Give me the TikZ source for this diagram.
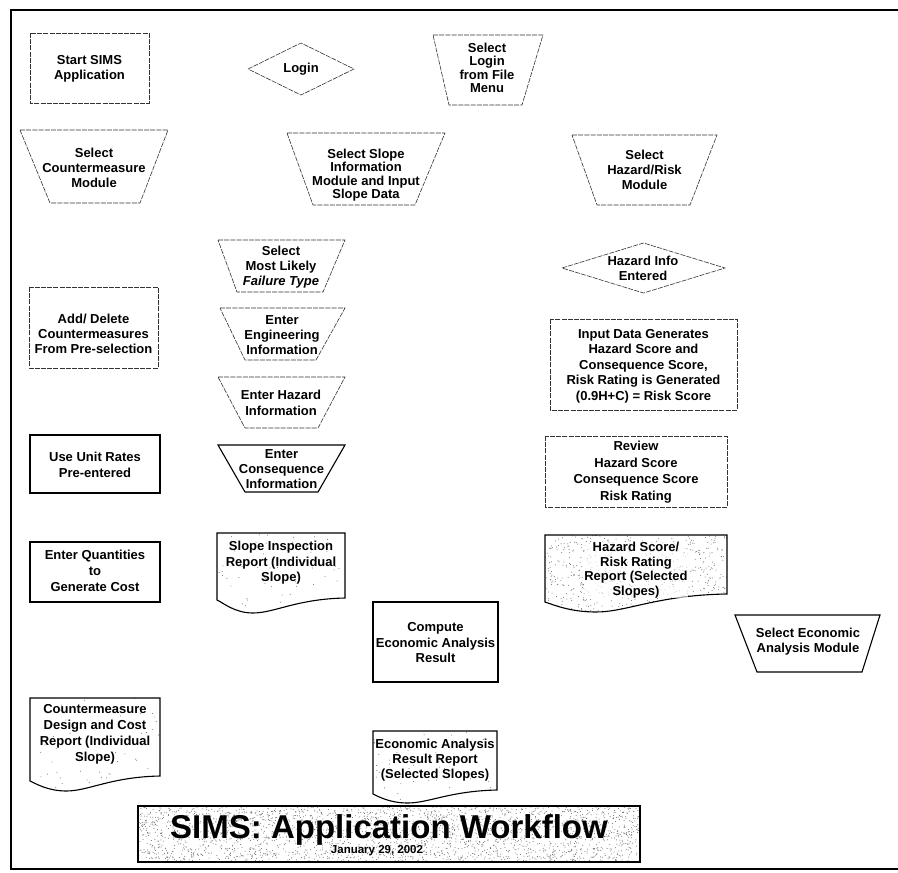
\documentclass[tikz,border=0pt]{standalone}
\usepackage{fontspec}
\setmainfont{Liberation Sans}
\usetikzlibrary{calc}

\tikzset{
  lbl/.style={font=\bfseries\fontsize{13}{#1}\selectfont, align=center, inner sep=0pt},
  lbl/.default=15,
  faint/.style={draw=black!80, line width=0.6pt, dash pattern=on 5pt off 1.2pt},
  solidln/.style={draw=black, line width=1.1pt},
  frameln/.style={draw=black, line width=2.6pt},
  speck/.style={fill=black!60},
}

% flat-top shape: top-left x, top-right x, top y, bottom-left x, bottom-right x, bottom y
\newcommand\trapz[6]{(#1,#3) -- (#2,#3) -- (#5,#6) -- (#4,#6) -- cycle}
% diamond: left, right, top, bottom
\newcommand\dmnd[4]{(#1,{(#3+#4)/2}) -- ({(#1+#2)/2},#3) -- (#2,{(#3+#4)/2}) -- ({(#1+#2)/2},#4) -- cycle}
% report sheet with wavy lower edge: x0, x1, top, left foot, right foot, lowest point of the wave
\newcommand\docsheet[6]{(#1,#3) -- (#2,#3) -- (#2,#5)
  .. controls ({#1+0.62*(#2-#1)},{#5+1}) and ({#1+0.45*(#2-#1)},{#6}) .. ({#1+0.28*(#2-#1)},{#6})
  .. controls ({#1+0.14*(#2-#1)},{#6}) and ({#1+0.05*(#2-#1)},{#4+3}) .. (#1,#4) -- cycle}
% random grain inside a region: count, x0, y0, width, height
\newcommand\grain[5]{\foreach \k in {1,...,#1}{\fill[speck] ({#2+rnd*#4},{#3+rnd*#5}) circle (0.5pt);}}

\begin{document}
\begin{tikzpicture}[x=1pt, y=-1pt]
\useasboundingbox (0,0) rectangle (898,873);
\pgfmathsetseed{4217}

% outer frame (open on the right)
\draw[frameln] (898,10) -- (11,10) -- (11,869) -- (898,869);

% ---- top row ----
\draw[faint] (30,33) rectangle (149,103);
\node[lbl] (start) at (89.5,69) {Start SIMS\\Application};

\draw[faint] \dmnd{248}{354}{43}{95};
\node[lbl] (login) at (301,69) {Login};

\draw[faint] \trapz{433}{543}{35}{449}{522}{105};
\node[lbl=13.5] (sellogin) at (487,68) {Select\\Login\\from File\\Menu};

% ---- module selections ----
\draw[faint] \trapz{20}{168}{130}{50}{140}{203};
\node[lbl] (selcm) at (94,168) {Select\\Countermeasure\\Module};

\draw[faint] \trapz{287}{445}{133}{313}{415}{205};
\node[lbl=13.5] (selslope) at (366,175) {Select Slope\\Information\\Module and Input\\Slope Data};

\draw[faint] \trapz{572}{717}{135}{597}{690}{205};
\node[lbl] (selhaz) at (644.5,170) {Select\\Hazard/Risk\\Module};

% ---- slope information column ----
\draw[faint] \trapz{218}{345}{240}{237}{323}{292};
\node[lbl] (selmost) at (281,267) {Select\\Most Likely\\\textit{Failure Type}};

\draw[faint] \trapz{220}{345}{308}{245}{316}{360};
\node[lbl] (enteng) at (282,335) {Enter\\Engineering\\Information};

\draw[faint] \trapz{218}{345}{377}{245}{318}{428};
\node[lbl=16] (enthaz) at (281,403) {Enter Hazard\\Information};

\draw[solidln] \trapz{218}{345}{445}{245}{318}{492};
\node[lbl=15] (entcons) at (281.5,469) {Enter\\Consequence\\Information};

\begin{scope}
  \clip \docsheet{217}{345}{533}{600}{598}{613};
  \grain{60}{217}{533}{128}{80}
\end{scope}
\draw[solidln] \docsheet{217}{345}{533}{600}{598}{613};
\node[lbl=15.5] (slopeinsp) at (281,563) {Slope Inspection\\Report (Individual\\Slope)};

% ---- countermeasure column ----
\draw[faint] (29,287) rectangle (158,368);
\node[lbl] (adddel) at (93.5,334) {Add/ Delete\\Countermeasures\\From Pre-selection};

\draw[solidln] (30,435) rectangle (160,493);
\node[lbl=16] (useunit) at (95,465) {Use Unit Rates\\Pre-entered};

\draw[solidln] (30,542) rectangle (160,602);
\node[lbl=16] (entqty) at (95,571) {Enter Quantities\\to\\Generate Cost};

\begin{scope}
  \clip \docsheet{30}{160}{698}{781}{776}{791};
  \grain{60}{30}{698}{130}{95}
\end{scope}
\draw[solidln] \docsheet{30}{160}{698}{781}{776}{791};
\node[lbl=16] (cmreport) at (95,734) {Countermeasure\\Design and Cost\\Report (Individual\\Slope)};

% ---- hazard / risk column ----
\draw[faint] \dmnd{562}{725}{243}{293};
\node[lbl] (hazinfo) at (643,268) {Hazard Info\\Entered};

\draw[faint] (550,319) rectangle (737,410);
\node[lbl=15.5] (inputdata) at (643.5,366) {Input Data Generates\\Hazard Score and\\Consequence Score,\\Risk Rating is Generated\\(0.9H+C) = Risk Score};

\draw[faint] (545,436) rectangle (727,507);
\node[lbl=16.5] (review) at (636,472) {Review\\Hazard Score\\Consequence Score\\Risk Rating};

\begin{scope}
  \clip \docsheet{545}{727}{535}{602}{594}{612};
  \grain{650}{545}{535}{182}{80}
\end{scope}
\draw[solidln] \docsheet{545}{727}{535}{602}{594}{612};
\node[lbl=14.5, fill=white, fill opacity=0.6, text opacity=1] (hazreport) at (636,570) {Hazard Score/\\Risk Rating\\Report (Selected\\Slopes)};

% ---- economic analysis ----
\draw[solidln] (373,602) rectangle (498,682);
\node[lbl=15.5] (compute) at (435.5,643) {Compute\\Economic Analysis\\Result};

\draw[solidln] \trapz{735}{880}{615}{757}{862}{672};
\node[lbl=15] (seleco) at (808,642) {Select Economic\\Analysis Module};

\begin{scope}
  \clip \docsheet{373}{497}{731}{794}{790}{803};
  \grain{60}{373}{731}{124}{75}
\end{scope}
\draw[solidln] \docsheet{373}{497}{731}{794}{790}{803};
\node[lbl=15] (ecoreport) at (435,760) {Economic Analysis\\Result Report\\(Selected Slopes)};

% ---- title banner ----
\begin{scope}
  \clip (138,806) rectangle (640,862);
  \grain{2600}{138}{806}{502}{56}
\end{scope}
\draw[solidln] (138,806) rectangle (640,862);
\node[font=\bfseries\fontsize{33}{36}\selectfont, anchor=base, inner sep=0pt] (title) at (389,838) {SIMS: Application Workflow};
\node[font=\bfseries\fontsize{11.5}{13}\selectfont, anchor=base, inner sep=0pt] (date) at (377,853) {January 29, 2002};
\end{tikzpicture}
\end{document}
